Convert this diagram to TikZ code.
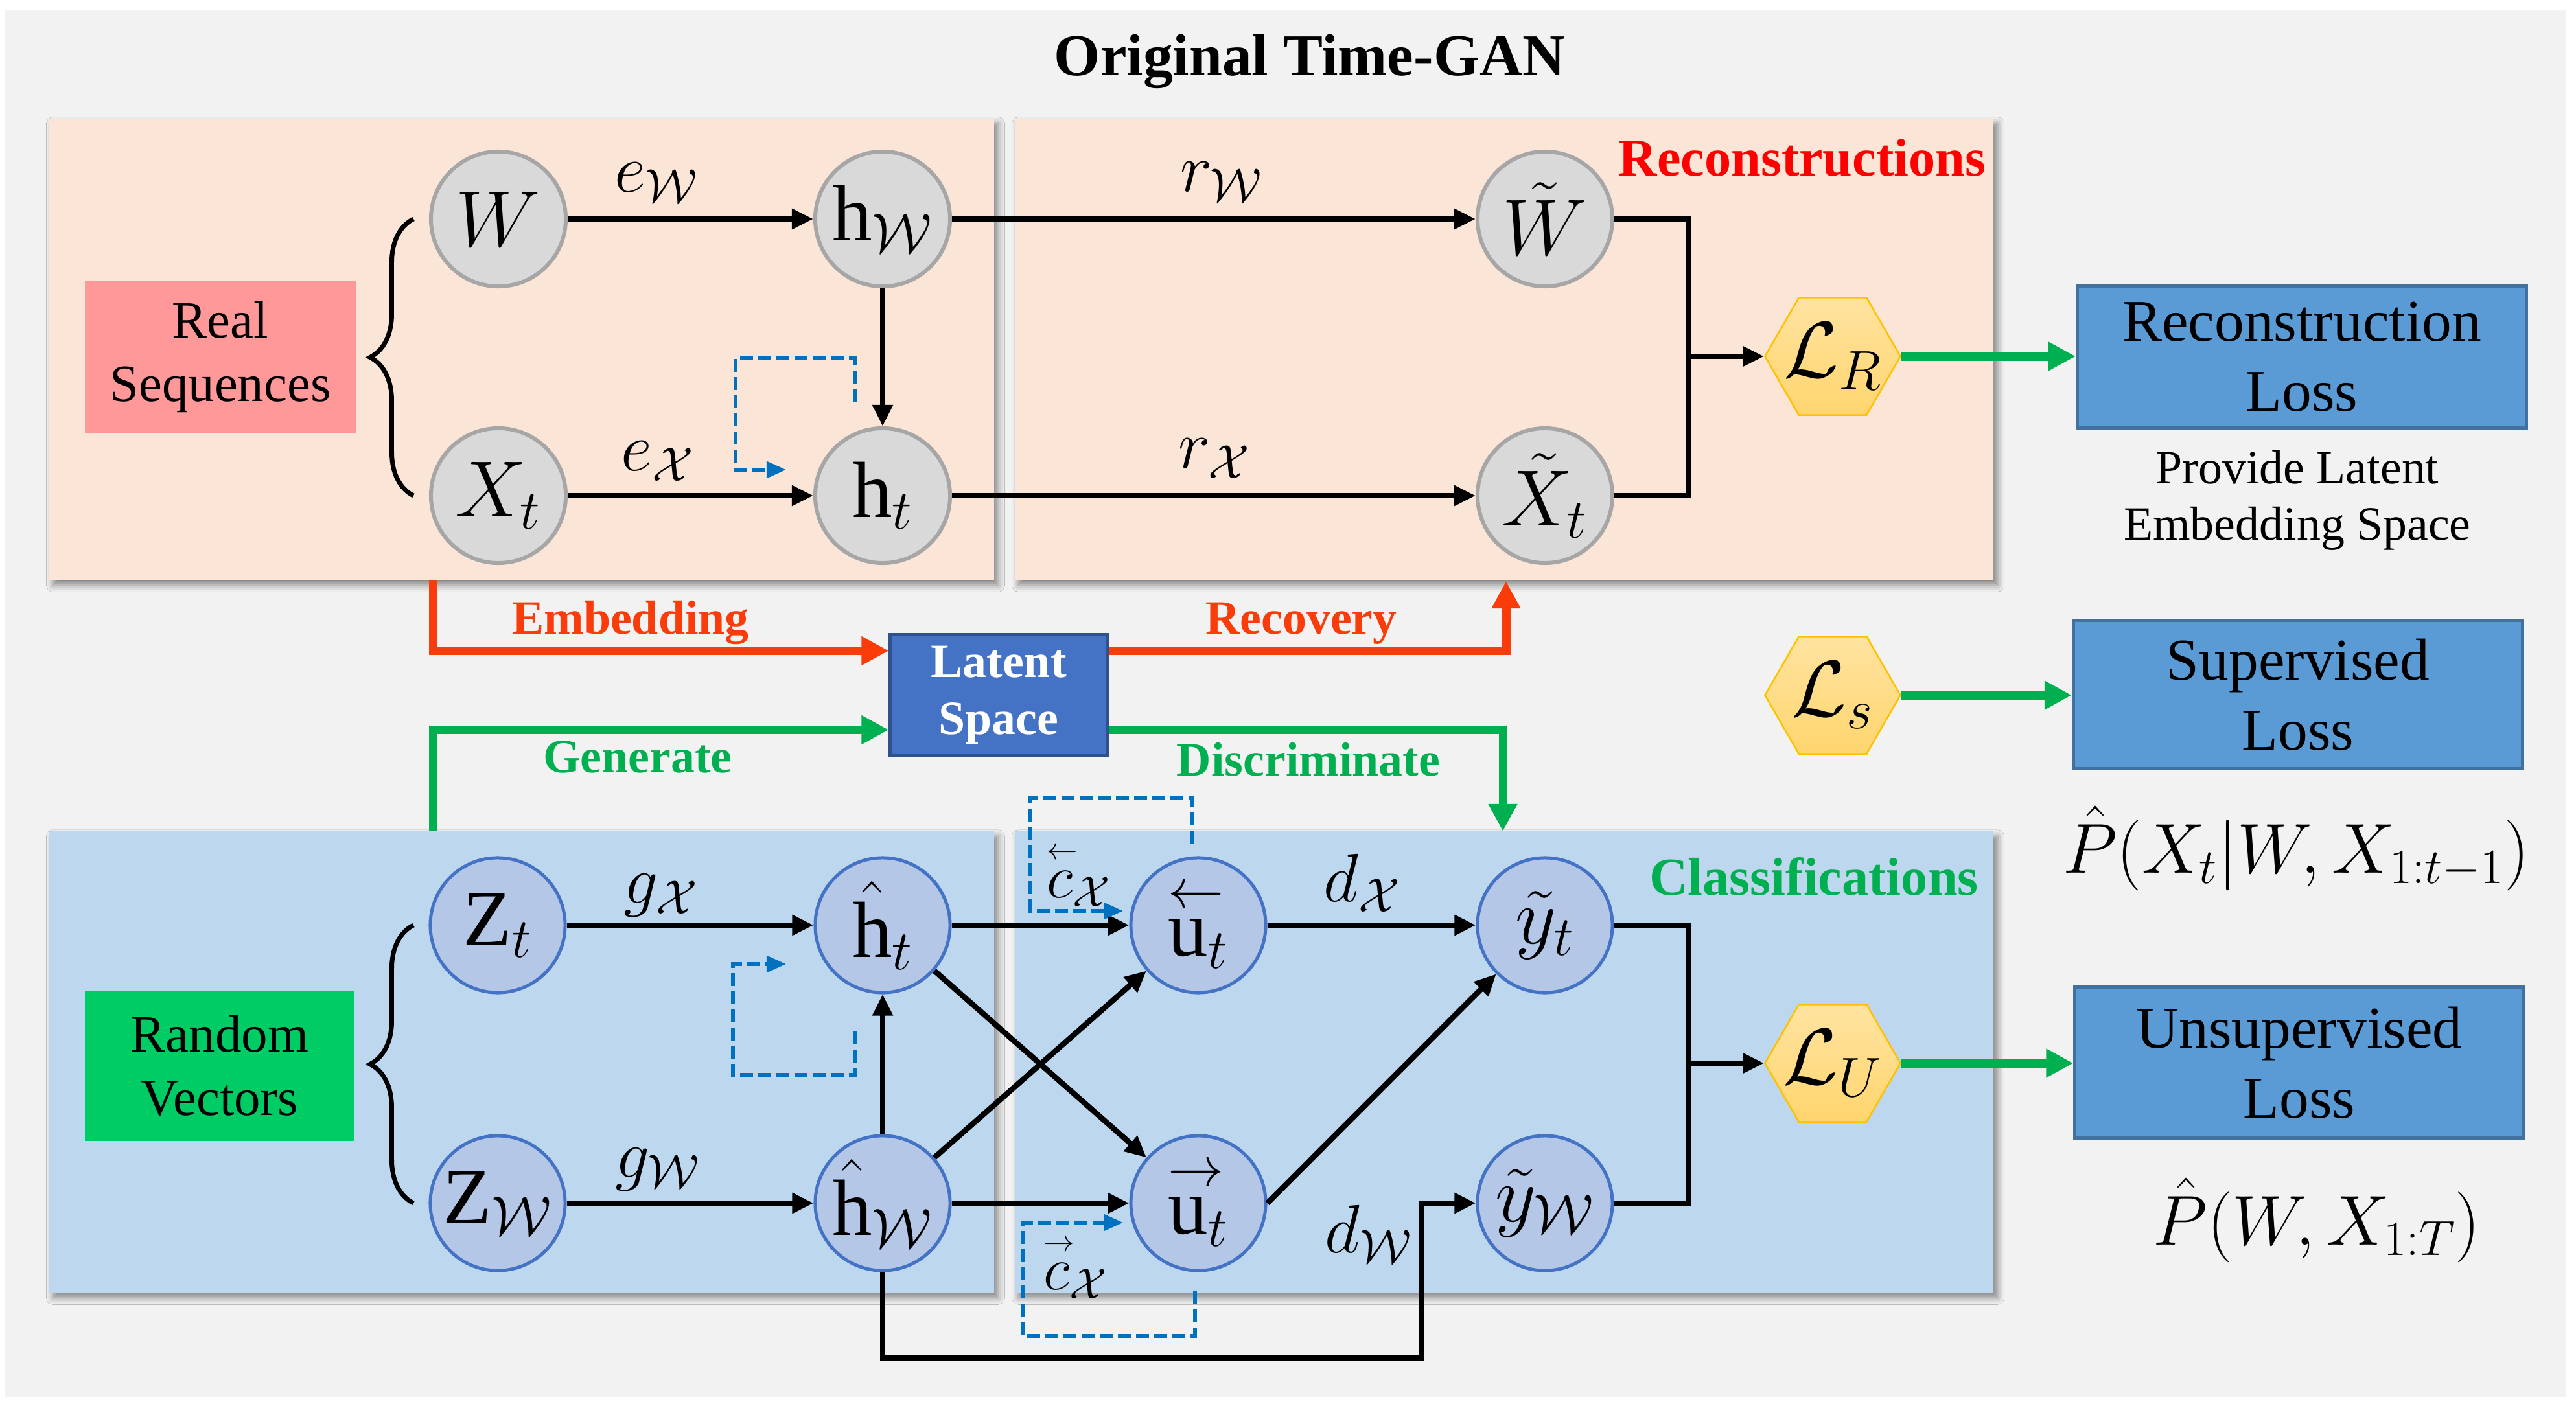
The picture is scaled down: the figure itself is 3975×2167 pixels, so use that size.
\RequirePackage{fix-cm}
\documentclass[tikz,border=0pt]{standalone}
\usepackage{fontspec}
\setmainfont{Liberation Serif}
\usepackage{amsmath,mathtools}
\usetikzlibrary{arrows.meta,shapes.geometric,shadows.blur,decorations.pathreplacing,calc}

\definecolor{bgc}{HTML}{F2F2F2}
\definecolor{pinkp}{HTML}{FBE5D6}
\definecolor{bluep}{HTML}{BDD7EE}
\definecolor{gfill}{HTML}{D9D9D9}
\definecolor{gline}{HTML}{A6A6A6}
\definecolor{bfill}{HTML}{B4C7E7}
\definecolor{bline}{HTML}{4472C4}
\definecolor{realc}{HTML}{FF9999}
\definecolor{randc}{HTML}{00CC66}
\definecolor{latfill}{HTML}{4472C4}
\definecolor{latline}{HTML}{2F528F}
\definecolor{lossfill}{HTML}{5B9BD5}
\definecolor{lossline}{HTML}{41719C}
\definecolor{garr}{HTML}{00B050}
\definecolor{oarr}{HTML}{F93C0A}
\definecolor{dblue}{HTML}{0070C0}
\definecolor{hextop}{HTML}{FFE3A0}
\definecolor{hexbot}{HTML}{FFD56E}
\definecolor{hexline}{HTML}{FFC000}

\newcommand\szCirc{\fontsize{35}{41}\selectfont}
\newcommand\szLab{\fontsize{30}{36}\selectfont}
\newcommand\szCvec{\fontsize{27}{32}\selectfont}
\newcommand\szSide{\fontsize{23}{28}\selectfont}
\newcommand\szLoss{\fontsize{26}{30.7}\selectfont}
\newcommand\szProv{\fontsize{21}{24.7}\selectfont}
\newcommand\szFlow{\fontsize{21}{25}\selectfont\bfseries}
\newcommand\szHead{\fontsize{23.4}{28}\selectfont\bfseries}
\newcommand\szTitle{\fontsize{26}{31}\selectfont\bfseries}
\newcommand\szForm{\fontsize{31}{37}\selectfont}
\newcommand\lvec[1]{\mathrlap{\overset{\scriptstyle\leftarrow}{\phantom{#1}}}#1}
\newcommand\rvec[1]{\mathrlap{\overset{\scriptstyle\rightarrow}{\phantom{#1}}}#1}
\newcommand\lsvec[1]{\mathrlap{\overset{\scriptscriptstyle\leftarrow}{\phantom{#1}}}#1}
\newcommand\rsvec[1]{\mathrlap{\overset{\scriptscriptstyle\rightarrow}{\phantom{#1}}}#1}

\begin{document}
\begin{tikzpicture}[x=0.01cm,y=-0.01cm,line join=miter,
  panel/.style={draw=none,inner sep=0pt,
    blur shadow={shadow xshift=0.06cm,shadow yshift=-0.08cm,shadow blur radius=0.1cm,shadow opacity=45}},
  gcirc/.style={circle,fill=gfill,draw=gline,line width=0.06cm,minimum size=2.08cm,inner sep=0pt},
  bcirc/.style={circle,fill=bfill,draw=bline,line width=0.05cm,minimum size=2.08cm,inner sep=0pt},
  every label/.style={font=\szCirc,inner sep=0pt},
  hexa/.style={regular polygon,regular polygon sides=6,minimum size=2.09cm,inner sep=0pt,
    draw=hexline,line width=0.025cm,top color=hextop,bottom color=hexbot},
  lossbox/.style={draw=lossline,fill=lossfill,line width=0.05cm,inner sep=0pt,align=center,font=\szLoss},
  sidebox/.style={draw=none,inner sep=0pt,align=center,font=\szSide},
  blk/.style={line width=0.085cm,draw=black},
  ar/.style={blk,-{Triangle[length=0.33cm,width=0.3cm]}},
  gar/.style={line width=0.13cm,draw=garr,-{Triangle[length=0.42cm,width=0.42cm]}},
  oar/.style={line width=0.13cm,draw=oarr,-{Triangle[length=0.42cm,width=0.42cm]}},
  dar/.style={line width=0.06cm,draw=dblue,dash pattern=on 0.2cm off 0.08cm,-{Triangle[length=0.3cm,width=0.25cm]}},
  brc/.style={line width=0.07cm,decorate,decoration={brace,amplitude=0.67cm}},
  elab/.style={font=\szLab,inner sep=0pt}
]
\useasboundingbox (0,0) rectangle (3975,2167);
\fill[white] (0,0) rectangle (3975,2167);
\fill[bgc] (8,15) rectangle (3960,2156);

% title
\node[font=\szTitle,anchor=base] (title) at (2021,117) {Original Time-GAN};

% panels
\node[panel,fill=pinkp,minimum width=14.58cm,minimum height=7.12cm] (P1) at (805,539) {};
\node[panel,fill=pinkp,minimum width=15.10cm,minimum height=7.12cm] (P2) at (2321,539) {};
\node[panel,fill=bluep,minimum width=14.58cm,minimum height=7.12cm] (P3) at (805,1639) {};
\node[panel,fill=bluep,minimum width=15.10cm,minimum height=7.12cm] (P4) at (2321,1639) {};

% side boxes
\node[sidebox,fill=realc,minimum width=4.17cm,minimum height=2.33cm] (RS) at (340,551) {Real\\Sequences};
\node[sidebox,fill=randc,minimum width=4.15cm,minimum height=2.32cm] (RV) at (339,1645) {Random\\Vectors};

% braces
\coordinate (b1a) at (638,765); \coordinate (b1b) at (638,338);
\coordinate (b2a) at (638,1857); \coordinate (b2b) at (638,1428);
\draw[brc] (b1a) -- (b1b);
\draw[brc] (b2a) -- (b2b);

% headers
\node[font=\szHead,text=red,anchor=base] (hrec) at (2781,272) {Reconstructions};
\node[font=\szHead,text=garr,anchor=base] (hcls) at (2799,1381) {Classifications};

% top circles
\node[gcirc,label={center:$W$}] (W) at (769,338) {};
\node[gcirc,label={center:$X_t$}] (Xt) at (769,765) {};
\node[gcirc,label={center:$\mathrm{h}_{\mathcal{W}}$}] (hW) at (1362,338) {};
\node[gcirc,label={center:$\mathrm{h}_t$}] (ht) at (1362,765) {};
\node[gcirc,label={center:$\tilde{W}$}] (Wt) at (2384,338) {};
\node[gcirc,label={center:$\tilde{X}_t$}] (Xtt) at (2384,765) {};

% bottom circles
\node[bcirc,label={center:$\mathrm{Z}_t$}] (Zt) at (768,1428) {};
\node[bcirc,label={center:$\mathrm{Z}_{\mathcal{W}}$}] (ZW) at (768,1857) {};
\node[bcirc,label={center:$\hat{\mathrm{h}}_t$}] (hht) at (1362,1428) {};
\node[bcirc,label={center:$\hat{\mathrm{h}}_{\mathcal{W}}$}] (hhW) at (1362,1857) {};
\node[bcirc,label={center:$\lvec{\mathrm{u}}_t$}] (lut) at (1849,1428) {};
\node[bcirc,label={center:$\rvec{\mathrm{u}}_t$}] (rut) at (1849,1857) {};
\node[bcirc,label={center:$\tilde{y}_t$}] (yt) at (2384,1428) {};
\node[bcirc,label={center:$\tilde{y}_{\mathcal{W}}$}] (yW) at (2384,1857) {};

% hexagons
\node[hexa,label={center:$\mathcal{L}_R$}] (LR) at (2828,550) {};
\node[hexa,label={center:$\mathcal{L}_s$}] (LS2) at (2828,1073) {};
\node[hexa,label={center:$\mathcal{L}_U$}] (LU) at (2828,1641) {};

% loss boxes
\node[lossbox,minimum width=6.93cm,minimum height=2.19cm] (RL) at (3552,551) {Reconstruction\\Loss};
\node[lossbox,minimum width=6.93cm,minimum height=2.28cm] (SL) at (3546,1072) {Supervised\\Loss};
\node[lossbox,minimum width=6.92cm,minimum height=2.33cm] (UL) at (3548,1640) {Unsupervised\\Loss};
\node[font=\szProv,align=center,inner sep=0pt] (prov) at (3545,772) {Provide Latent\\Embedding Space};
\node[font=\szForm,inner sep=0pt] (f1) at (3543,1309) {$\hat{P}(X_t|W,X_{1:t-1})$};
\node[font=\szForm,inner sep=0pt] (f2) at (3575,1883) {$\hat{P}(W,X_{1:T})$};

% latent space
\node[draw=latline,fill=latfill,line width=0.05cm,minimum width=3.34cm,minimum height=1.87cm,
  inner sep=0pt,align=center,text=white,font=\szFlow] (LSp) at (1541,1073) {Latent\\Space};

% top connectors
\draw[ar] (W) -- (hW);
\draw[ar] (Xt) -- (ht);
\draw[ar] (hW) -- (ht);
\draw[ar] (hW) -- (Wt);
\draw[ar] (ht) -- (Xtt);
\coordinate (mR) at (2606,550);
\draw[blk] (Wt.east) -| (mR) |- (Xtt.east);
\draw[ar] (mR) -- (LR.west);
\node[elab] (lew) at (1013,282) {$e_{\mathcal{W}}$};
\node[elab] (lex) at (1015,712) {$e_{\mathcal{X}}$};
\node[elab] (lrw) at (1885,281) {$r_{\mathcal{W}}$};
\node[elab] (lrx) at (1874,708) {$r_{\mathcal{X}}$};

% dashed loop (top)
\coordinate (d1s) at (1319,620); \coordinate (d1e) at (1213,725);
\draw[dar] (d1s) -- (1319,553) -- (1135,553) |- (d1e);

% green loss arrows
\draw[gar] (LR.east) -- (LR.east -| RL.west);
\draw[gar] (LS2.east) -- (LS2.east -| SL.west);
\draw[gar] (LU.east) -- (LU.east -| UL.west);

% latent space flows
\coordinate (embS) at (668,895);
\coordinate (recT) at (2324,897);
\coordinate (disT) at (2319,1283);
\coordinate (genS) at (668,1283);
\draw[oar] (embS) |- ([yshift=0.685cm]LSp.west);
\draw[oar] ([yshift=0.685cm]LSp.east) -| (recT);
\draw[gar] ([yshift=-0.535cm]LSp.east) -| (disT);
\draw[gar] (genS) |- ([yshift=-0.535cm]LSp.west);
\node[font=\szFlow,text=oarr,anchor=base] (lemb) at (973,978) {Embedding};
\node[font=\szFlow,text=oarr,anchor=base] (lrec) at (2008,978) {Recovery};
\node[font=\szFlow,text=garr,anchor=base] (lgen) at (984,1192) {Generate};
\node[font=\szFlow,text=garr,anchor=base] (ldis) at (2019,1197) {Discriminate};

% bottom connectors
\draw[ar] (Zt) -- (hht);
\draw[ar] (ZW) -- (hhW);
\draw[ar] (hhW) -- (hht);
\draw[ar] (hht) -- (lut);
\draw[ar] (hht) -- (rut);
\draw[ar] (hhW) -- (lut);
\draw[ar] (hhW) -- (rut);
\draw[ar] (lut) -- (yt);
\draw[ar] (rut.east) -- (yt);
\coordinate (bW) at (2194,2096);
\draw[ar] (hhW.south) |- (bW) |- (yW.west);
\coordinate (mU) at (2606,1641);
\draw[blk] (yt.east) -| (mU) |- (yW.east);
\draw[ar] (mU) -- (LU.west);
\node[elab] (lgx) at (1020,1382) {$g_{\mathcal{X}}$};
\node[elab] (lgw) at (1015,1805) {$g_{\mathcal{W}}$};
\node[elab] (ldx) at (2102,1363) {$d_{\mathcal{X}}$};
\node[elab] (ldw) at (2112,1905) {$d_{\mathcal{W}}$};
\node[font=\szCvec,inner sep=0pt] (lcl) at (1665,1350) {$\lsvec{c}_{\mathcal{X}}$};
\node[font=\szCvec,inner sep=0pt] (lcr) at (1660,1955) {$\rsvec{c}_{\mathcal{X}}$};

% dashed loops (bottom)
\coordinate (d2s) at (1319,1592); \coordinate (d2e) at (1213,1488);
\draw[dar] (d2s) -- (1319,1659) -- (1131,1659) |- (d2e);
\coordinate (d3s) at (1840,1302); \coordinate (d3e) at (1733,1406);
\draw[dar] (d3s) -- (1840,1232) -- (1590,1232) |- (d3e);
\coordinate (d4s) at (1844,1993); \coordinate (d4e) at (1733,1887);
\draw[dar] (d4s) -- (1844,2062) -- (1579,2062) |- (d4e);
\end{tikzpicture}
\end{document}
